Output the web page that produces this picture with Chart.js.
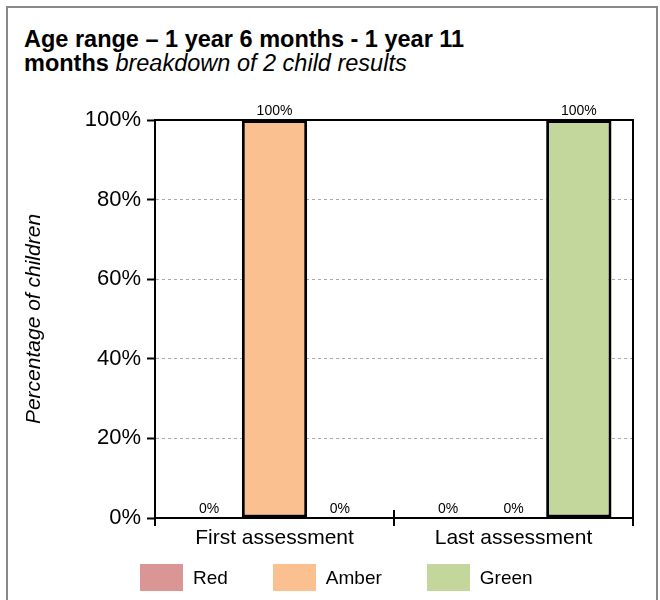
<!DOCTYPE html>
<html>
<head>
<meta charset="utf-8">
<script src="https://cdn.jsdelivr.net/npm/chart.js@4.4.1/dist/chart.umd.min.js"></script>
<style>
  body { margin: 0; background: #fff; font-family: "Liberation Sans", Arial, sans-serif; }
  #frame { position: absolute; left: 6px; top: 6px; width: 648px; height: 600px; border: 2px solid #888; }
  #title { position: absolute; left: 24px; top: 27px; font-size: 23.5px; line-height: 24px; color: #000; white-space: nowrap; }
  #title b { font-weight: bold; }
  #title i { font-style: italic; }
  #wrap { position: absolute; left: 0; top: 0; width: 660px; height: 600px; }
  #legend { position: absolute; left: 140px; top: 564px; display: flex; align-items: center; font-size: 19px; color: #000; }
  #legend .item { display: flex; align-items: center; margin-right: 45px; }
  #legend .box { width: 43px; height: 27px; margin-right: 10px; }
</style>
</head>
<body>
<div id="frame"></div>
<div id="title"><b>Age range – 1 year 6 months - 1 year 11<br>months</b> <i>breakdown of 2 child results</i></div>
<div id="wrap"><canvas id="chart" width="660" height="600"></canvas></div>
<div id="legend"></div>
<script>
// assessment categories and RAG breakdown (percent of children)
const categories = ['First assessment', 'Last assessment'];
const redValues = [0, 0];
const amberValues = [100, 0];
const greenValues = [0, 100];
const yTicks = [0, 20, 40, 60, 80, 100];

const seriesNames = ['Red', 'Amber', 'Green'];
const seriesColors = ['#D99694', '#FAC090', '#C3D69B'];

const FONT = '"Liberation Sans", Arial, sans-serif';

// value labels above each bar
const valueLabels = {
  id: 'valueLabels',
  afterDatasetsDraw(chart) {
    const ctx = chart.ctx;
    ctx.save();
    ctx.font = '14px ' + FONT;
    ctx.fillStyle = '#000';
    ctx.textAlign = 'center';
    ctx.textBaseline = 'bottom';
    chart.data.datasets.forEach((ds, i) => {
      chart.getDatasetMeta(i).data.forEach((bar, j) => {
        ctx.fillText(ds.data[j] + '%', bar.x, bar.y - 2);
      });
    });
    ctx.restore();
  }
};

// black box round the plot area + category tick stubs poking above the axis
const plotBox = {
  id: 'plotBox',
  afterDraw(chart) {
    const a = chart.chartArea;
    const x = chart.scales.x;
    const ctx = chart.ctx;
    ctx.save();
    ctx.strokeStyle = '#000';
    ctx.lineWidth = 2;
    ctx.beginPath();
    ctx.moveTo(a.left, a.top);
    ctx.lineTo(a.right, a.top);
    ctx.lineTo(a.right, a.bottom);
    for (let i = 0; i <= categories.length; i++) {
      const px = x.getPixelForValue(i - 0.5);
      ctx.moveTo(px, a.bottom);
      ctx.lineTo(px, a.bottom - 8);
    }
    ctx.stroke();
    ctx.restore();
  }
};

new Chart(document.getElementById('chart'), {
  type: 'bar',
  data: {
    labels: categories,
    datasets: [redValues, amberValues, greenValues].map((vals, i) => ({
      label: seriesNames[i],
      data: vals,
      backgroundColor: seriesColors[i],
      borderColor: '#000',
      borderWidth: 3,
      borderSkipped: false,
      categoryPercentage: 0.82,
      barPercentage: 1.0
    }))
  },
  options: {
    responsive: false,
    animation: false,
    layout: { padding: { left: 0, right: 27, top: 120, bottom: 42 } },
    plugins: {
      tooltip: { enabled: false },
      legend: { display: false }
    },
    scales: {
      x: {
        grid: { drawOnChartArea: false, color: '#000', tickLength: 8, lineWidth: 2 },
        border: { color: '#000', width: 2 },
        ticks: { color: '#000', padding: 0, font: { size: 21, family: FONT } },
        afterFit(scale) { scale.height = 40; }
      },
      y: {
        min: 0,
        max: 100,
        afterBuildTicks(scale) { scale.ticks = yTicks.map(v => ({ value: v })); },
        grid: {
          color: ctx => (ctx.tick && (ctx.tick.value === 0 || ctx.tick.value === 100)) ? 'rgba(0,0,0,0)' : '#aaa',
          lineWidth: 1,
          tickColor: '#000',
          tickWidth: 2,
          tickLength: 8
        },
        border: { color: '#000', width: 2, dash: [3, 3] },
        ticks: {
          color: '#000',
          padding: 6,
          font: { size: 22, family: FONT },
          callback: v => v + '%'
        },
        title: {
          display: true,
          text: 'Percentage of children',
          color: '#000',
          padding: { top: 22, bottom: 0 },
          font: { size: 21, style: 'italic', family: FONT }
        },
        afterFit(scale) { scale.width = 155; }
      }
    }
  },
  plugins: [valueLabels, plotBox]
});

// legend, built from the series arrays
const legendEl = document.getElementById('legend');
seriesNames.forEach((name, i) => {
  legendEl.insertAdjacentHTML('beforeend',
    `<div class="item"><div class="box" style="background:${seriesColors[i]}"></div><span>${name}</span></div>`);
});
</script>
</body>
</html>
